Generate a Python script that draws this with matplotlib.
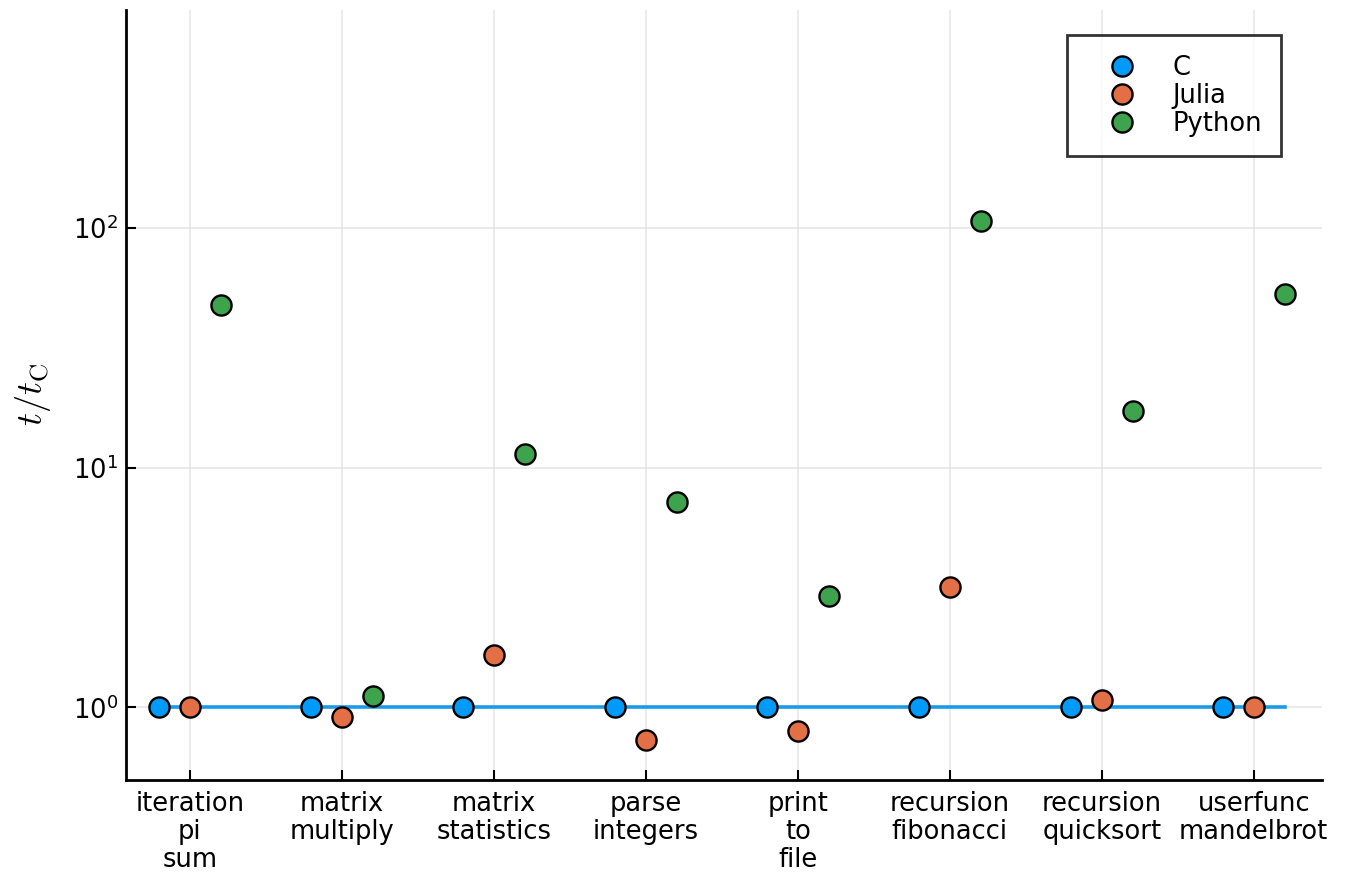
import matplotlib
matplotlib.use("Agg")
import matplotlib.pyplot as plt
from matplotlib.ticker import FixedLocator, NullLocator

plt.rcParams['mathtext.fontset'] = 'cm'

# benchmarks (t / t_C)
categorias = ["iteration\npi\nsum", "matrix\nmultiply", "matrix\nstatistics",
              "parse\nintegers", "print\nto\nfile", "recursion\nfibonacci",
              "recursion\nquicksort", "userfunc\nmandelbrot"]
c_vals = [1, 1, 1, 1, 1, 1, 1, 1]
julia_vals = [1.0, 0.91, 1.66, 0.73, 0.80, 3.19, 1.07, 1.0]
python_vals = [47.8, 1.12, 11.4, 7.2, 2.93, 107, 17.3, 53.1]

cores = {"C": "#009AFA", "Julia": "#E26F46", "Python": "#3DA44D"}
desloc = 0.205

fig = plt.figure(figsize=(13.5, 8.77), dpi=100)
ax = fig.add_axes([0.0933, 0.111, 0.8857, 0.8776])

x = list(range(len(categorias)))
xc = [i - desloc for i in x]
xp = [i + desloc for i in x]

# linha de referencia em 1
ax.plot([xc[0], xp[-1]], [1, 1], color="#1a9be8", lw=2.6, zorder=2)

kw = dict(ls="none", marker="o", ms=14.5, mec="black", mew=1.7, zorder=3)
ax.plot(xc, c_vals, mfc=cores["C"], label="C", **kw)
ax.plot(x, julia_vals, mfc=cores["Julia"], label="Julia", **kw)
ax.plot(xp, python_vals, mfc=cores["Python"], label="Python", **kw)

ax.set_yscale("log")
ax.set_ylim(0.5, 810)
ax.set_xlim(-0.42, 7.447)
ax.yaxis.set_major_locator(FixedLocator([1, 10, 100]))
ax.yaxis.set_minor_locator(NullLocator())
ax.set_xticks(x)
ax.set_xticklabels(categorias, fontsize=18.5, linespacing=1.1)
ax.tick_params(axis="y", labelsize=18.5, pad=6)
ax.tick_params(axis="x", pad=8)
ax.tick_params(direction="in", length=7, width=1.5, color="black")

ax.grid(True, color="#e6e6e6", lw=1.2, zorder=0)
ax.set_axisbelow(True)

for lado in ["top", "right"]:
    ax.spines[lado].set_visible(False)
for lado in ["left", "bottom"]:
    ax.spines[lado].set_linewidth(2)

ax.set_ylabel(r"$t/t_\mathrm{C}$", fontsize=26, labelpad=14)

leg = ax.legend(loc="upper right", bbox_to_anchor=(0.966, 0.967), fontsize=18.5,
                frameon=True, fancybox=False, edgecolor="black",
                handlelength=2.8, handletextpad=0.55, borderpad=0.75,
                labelspacing=0.08, borderaxespad=0)
leg.get_frame().set_linewidth(2)

fig.savefig("out.png", dpi=100)
